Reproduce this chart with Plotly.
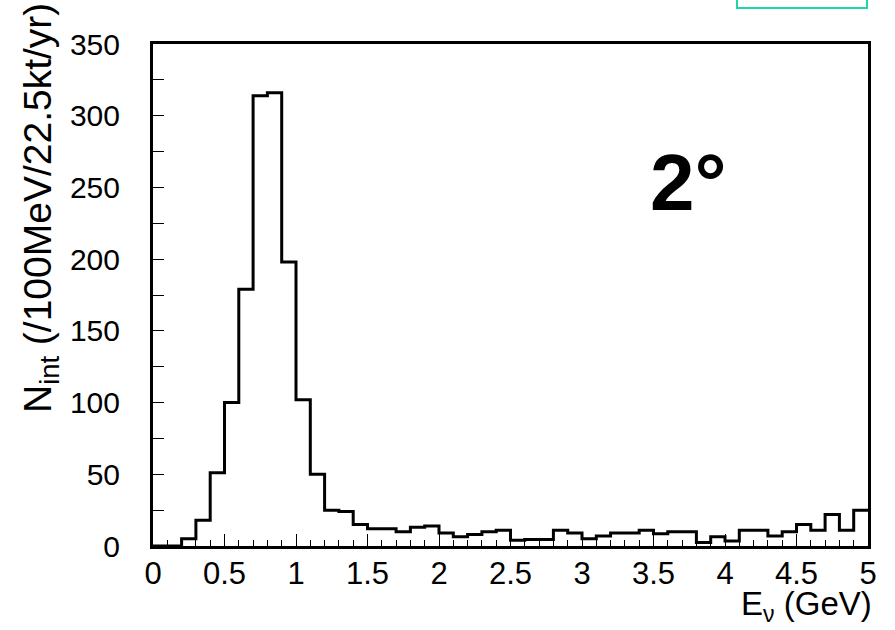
import plotly.graph_objects as go

# Bin lower edges (GeV), 100 MeV bins from 0 to 5 GeV
bin_low = [round(0.1 * i, 1) for i in range(50)]
bin_width = 0.1
# Interaction counts per bin (/100MeV/22.5kt/yr)
counts = [0, 0, 5, 18, 51, 100, 179, 314, 316, 198,
          102, 50, 25, 24, 15, 12, 12, 10, 13, 14,
          9, 6.5, 8, 10, 11, 4, 4.6, 4.6, 11, 9,
          5, 7, 9, 9, 11, 8.5, 10, 10, 2.5, 6.5,
          3.5, 11, 11, 7, 10, 15, 11, 22, 11, 25]
y_ticks = [0, 50, 100, 150, 200, 250, 300, 350]
x_ticks = [0, 0.5, 1, 1.5, 2, 2.5, 3, 3.5, 4, 4.5, 5]
x_ticklabels = ["0", "0.5", "1", "1.5", "2", "2.5", "3", "3.5", "4", "4.5", "5"]

step_x = bin_low + [round(bin_low[-1] + bin_width, 1)]
step_y = counts + [counts[-1]]

FONT = "Liberation Sans, Arial, Helvetica, sans-serif"

fig = go.Figure()
fig.add_trace(go.Scatter(
    x=step_x, y=step_y, mode="lines", line_shape="hv",
    line=dict(color="black", width=3), showlegend=False, hoverinfo="skip"))

W, H = 895, 630
L, R, T, B = 153, 27, 44, 84

fig.update_layout(
    width=W, height=H,
    margin=dict(l=L, r=R, t=T, b=B, autoexpand=False),
    paper_bgcolor="white", plot_bgcolor="white",
    font=dict(family=FONT, color="black", size=30),
    xaxis=dict(
        range=[0, 5], showgrid=False, zeroline=False, automargin=False,
        showline=True, linecolor="black", linewidth=3, mirror=True,
        tickmode="array", tickvals=x_ticks, ticktext=x_ticklabels,
        ticks="inside", ticklen=12, tickwidth=1, tickcolor="black",
        tickfont=dict(size=31, family=FONT),
        ticklabelstandoff=-2,
        minor=dict(dtick=0.1, ticks="inside", ticklen=6, tickwidth=1, tickcolor="black"),
    ),
    yaxis=dict(
        range=[0, 350], showgrid=False, zeroline=False, automargin=False,
        showline=True, linecolor="black", linewidth=3, mirror=True,
        tickmode="array", tickvals=y_ticks,
        ticks="inside", ticklen=11, tickwidth=1, tickcolor="black",
        tickfont=dict(size=30, family=FONT),
        ticklabelstandoff=24,
        minor=dict(dtick=25, ticks="inside", ticklen=11, tickwidth=1, tickcolor="black"),
    ),
)

pw = W - L - R
ph = H - T - B

def px_x(p):
    return (p - L) / pw

def px_y(p):
    return (H - B - p) / ph

# Y axis title
fig.add_annotation(
    text="N<sub>int</sub> (/100MeV/22.5kt/yr)", textangle=-90,
    xref="paper", yref="paper", x=px_x(40), y=px_y(1),
    xanchor="center", yanchor="top", showarrow=False,
    font=dict(size=39, family=FONT, color="black"))

# X axis title
fig.add_annotation(
    text="E<sub>ν</sub> (GeV)",
    xref="paper", yref="paper", x=px_x(874), y=px_y(606),
    xanchor="right", yanchor="middle", showarrow=False,
    font=dict(size=33, family=FONT, color="black"))

# Angle label
fig.add_annotation(
    text="<b>2°</b>",
    xref="paper", yref="paper", x=px_x(648), y=px_y(182),
    xanchor="left", yanchor="middle", showarrow=False,
    font=dict(size=80, family=FONT, color="black"))

# Teal box at top right (cut off at the top edge of the picture)
bx0, bx1, by0, by1 = px_x(737), px_x(867), px_y(8), px_y(-20)
fig.add_shape(
    type="path", xref="paper", yref="paper",
    path=f"M {bx0},{by1} L {bx0},{by0} L {bx1},{by0} L {bx1},{by1}",
    line=dict(color="#1fd6a9", width=2), fillcolor="rgba(0,0,0,0)")

fig.write_html("out.html",
               config={"displayModeBar": False},
               post_script="document.body.style.margin='0px';document.body.style.overflow='hidden';")
